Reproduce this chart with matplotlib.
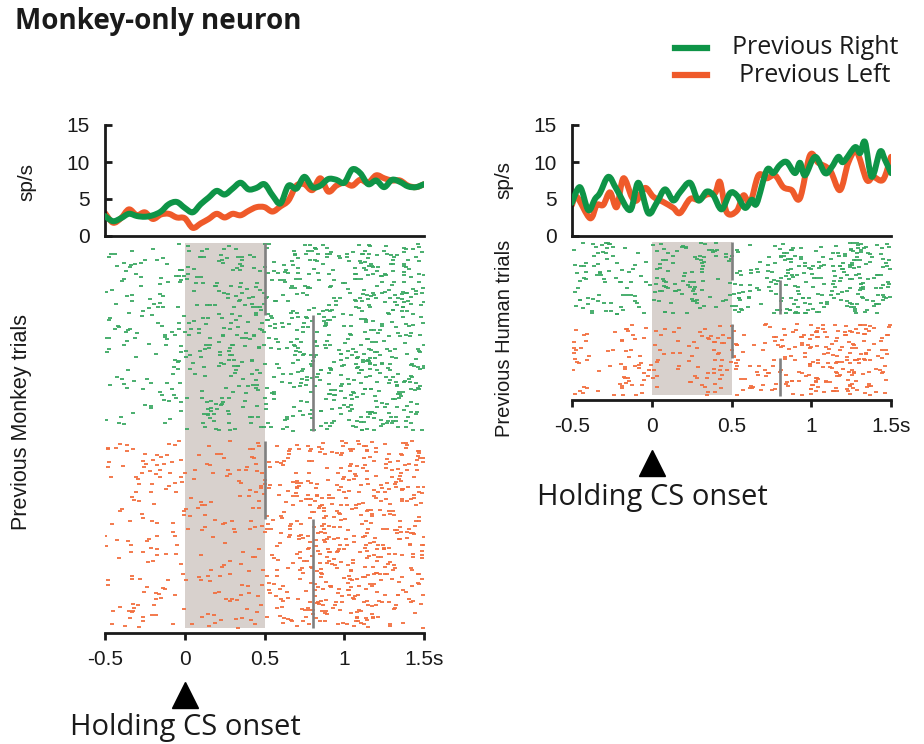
import numpy as np
import matplotlib
matplotlib.use("Agg")
import matplotlib.pyplot as plt
from matplotlib.lines import Line2D
from matplotlib.path import Path
from matplotlib.patches import PathPatch

# ---------------- data ----------------
time_grid = [-0.5, -0.45, -0.4, -0.35, -0.3, -0.25, -0.2, -0.15, -0.1, -0.05,
             0.0, 0.05, 0.1, 0.15, 0.2, 0.25, 0.3, 0.35, 0.4, 0.45,
             0.5, 0.55, 0.6, 0.65, 0.7, 0.75, 0.8, 0.85, 0.9, 0.95,
             1.0, 1.05, 1.1, 1.15, 1.2, 1.25, 1.3, 1.35, 1.4, 1.45, 1.5]
left_green = [2.7, 2.0, 2.4, 3.0, 2.7, 2.6, 2.8, 3.3, 4.3, 4.6,
              3.8, 3.2, 4.3, 5.2, 6.1, 5.6, 6.4, 7.2, 6.3, 6.5,
              7.0, 5.5, 4.4, 6.8, 6.4, 8.0, 6.6, 6.8, 7.7, 7.6,
              7.2, 9.0, 8.5, 7.0, 7.5, 6.6, 7.6, 7.3, 6.7, 6.6, 7.0]
left_orange = [3.1, 1.8, 2.4, 3.6, 2.8, 3.2, 2.3, 2.9, 3.0, 2.5,
               2.4, 1.1, 1.7, 2.3, 3.0, 2.5, 3.0, 2.8, 3.4, 3.9,
               3.9, 3.3, 4.0, 4.8, 6.8, 7.0, 6.2, 7.8, 6.0, 6.8,
               7.2, 6.8, 7.6, 7.2, 8.2, 7.8, 7.5, 7.5, 6.8, 6.6, 7.0]

right_green_t = [-0.5, -0.45, -0.398, -0.356, -0.325, -0.272, -0.22, -0.136, -0.084,
                 -0.022, 0.031, 0.083, 0.135, 0.177, 0.24, 0.292, 0.344, 0.386,
                 0.438, 0.491, 0.533, 0.585, 0.627, 0.658, 0.721, 0.762, 0.804,
                 0.846, 0.898, 0.929, 0.961, 1.024, 1.086, 1.128, 1.17, 1.201,
                 1.274, 1.306, 1.337, 1.379, 1.431, 1.462, 1.5]
right_green = [4.5, 6.6, 3.5, 5.0, 5.8, 8.0, 6.3, 3.5, 7.2,
               3.1, 4.5, 6.3, 4.8, 5.9, 7.2, 4.8, 6.0, 5.5,
               3.6, 5.8, 5.5, 3.8, 4.9, 4.4, 8.9, 8.5, 9.6,
               10.0, 8.5, 9.9, 8.2, 10.7, 8.5, 9.3, 10.7, 10.0,
               12.0, 11.2, 12.7, 8.0, 11.4, 10.3, 8.5]
right_orange_t = [-0.5, -0.47, -0.387, -0.345, -0.304, -0.262, -0.22, -0.178, -0.126,
                  -0.094, -0.042, 0.01, 0.072, 0.135, 0.177, 0.24, 0.292, 0.344,
                  0.397, 0.428, 0.47, 0.533, 0.575, 0.617, 0.669, 0.721, 0.773,
                  0.825, 0.877, 0.929, 0.992, 1.044, 1.117, 1.18, 1.232, 1.284,
                  1.347, 1.389, 1.45, 1.5]
right_orange = [4.2, 5.3, 2.4, 4.2, 4.2, 5.9, 3.9, 7.8, 5.3,
                4.8, 6.5, 5.3, 4.6, 3.8, 3.1, 5.0, 4.9, 5.6,
                5.8, 7.3, 3.2, 3.4, 5.5, 4.5, 8.2, 7.8, 8.2,
                6.6, 6.2, 5.1, 10.9, 9.9, 8.9, 6.2, 9.9, 11.4,
                7.6, 8.0, 7.6, 10.7]

xticks = [-0.5, 0, 0.5, 1, 1.5]
xticklabels = ['-0.5', '0', '0.5', '1', '1.5s']
yticks = [0, 5, 10, 15]
cue_window = [0.0, 0.5]
event_times = [0.5, 0.8]
# trials per event-time subgroup
left_green_trials = [23, 37]
left_orange_trials = [25, 35]
right_green_trials = [12, 11]
right_orange_trials = [11, 12]
series_labels = ['Previous Right', 'Previous Left']

# ---------------- style ----------------
GREEN = '#0e9447'
ORANGE = '#ef5a2a'
GREEN_DOT = '#3aa862'
ORANGE_DOT = '#f26e3e'
SHADE = '#d8d1cd'
EVENT = '#808080'
INK = '#1a1a1a'
TICKFONT = ['Liberation Sans', 'DejaVu Sans']
CAL = ['Open Sans', 'DejaVu Sans']
DENSITY = 1.3

W, H = 924, 744
fig = plt.figure(figsize=(W / 100, H / 100), dpi=100)


def rect(x0, y0, x1, y1):
    return [x0 / W, 1 - y1 / H, (x1 - x0) / W, (y1 - y0) / H]


def fx(x):
    return x / W


def fy(y):
    return 1 - y / H


def hash01(a):
    """Deterministic hash in [0, 1)."""
    return np.modf(np.abs(np.sin(np.asarray(a, float) * 12.9898 + 4.1414) * 43758.5453))[0]


def spikes_from_rate(t, rate, n_trials, seed):
    """Deterministic spike times whose density follows the rate curve."""
    t = np.asarray(t, float)
    r = np.asarray(rate, float)
    fine = np.linspace(-0.5, 1.5, 801)
    rf = np.interp(fine, t, r)
    cdf = np.concatenate([[0], np.cumsum((rf[1:] + rf[:-1]) / 2 * np.diff(fine))])
    total = cdf[-1]
    all_t, all_r = [], []
    for j in range(n_trials):
        base = seed + j * 97.31
        n = int(round(total * DENSITY + (hash01(base) - 0.5) * 6))
        u = hash01(base + 0.713 + np.arange(n) * 1.6180339)
        jit = (hash01(base + 0.377 + np.arange(n) * 2.2360679) - 0.5) * 0.7
        all_t.append(np.interp(u * total, cdf, fine))
        all_r.append(j + jit)
    return np.concatenate(all_t), np.concatenate(all_r)


def smooth_line(ax, x, y, color, lw, z):
    p = np.column_stack([x, y]).astype(float)
    ext = np.vstack([p[0], p, p[-1]])
    verts = [tuple(p[0])]
    codes = [Path.MOVETO]
    for i in range(1, len(ext) - 2):
        p0, p1, p2, p3 = ext[i - 1], ext[i], ext[i + 1], ext[i + 2]
        c1 = p1 + (p2 - p0) / 6.0
        c2 = p2 - (p3 - p1) / 6.0
        verts += [tuple(c1), tuple(c2), tuple(p2)]
        codes += [Path.CURVE4] * 3
    patch = PathPatch(Path(verts, codes), facecolor='none', edgecolor=color, lw=lw,
                      capstyle='round', joinstyle='round', zorder=z)
    ax.add_patch(patch)


def psth_axes(r, tg, g, to, o):
    ax = fig.add_axes(r)
    smooth_line(ax, to, o, ORANGE, 4.3, 2)
    smooth_line(ax, tg, g, GREEN, 4.3, 3)
    ax.set_xlim(-0.5, 1.5)
    ax.set_ylim(0, 15)
    for s in ['top', 'right']:
        ax.spines[s].set_visible(False)
    for s in ['left', 'bottom']:
        ax.spines[s].set_linewidth(2.0)
        ax.spines[s].set_color(INK)
    ax.set_xticks([])
    ax.set_yticks(yticks)
    ax.tick_params(axis='y', direction='in', length=5, width=2.0, color=INK, pad=11,
                   labelsize=15, labelcolor=INK)
    for lbl in ax.get_yticklabels():
        lbl.set_fontfamily(TICKFONT)
    ax.patch.set_alpha(0)
    return ax


def raster_axes(r, groups, ylim_bottom, shade_bottom_frac):
    ax = fig.add_axes(r)
    ax.axvspan(cue_window[0], cue_window[1], ymin=shade_bottom_frac, ymax=1,
               color=SHADE, lw=0, zorder=0)
    row0 = 0
    for (t, rate, counts, color, seed) in groups:
        n_tr = sum(counts)
        times, rows = spikes_from_rate(t, rate, n_tr, seed)
        ax.plot(times, row0 + rows, ls='none', marker='_', ms=3.0, mew=1.3,
                color=color, zorder=2)
        start = row0
        for cnt, ev in zip(counts, event_times):
            ax.vlines(ev + 0.006, start - 0.5, start + cnt - 0.5, color=EVENT, lw=1.9, zorder=3)
            start += cnt
        row0 += n_tr + 3
    ax.set_xlim(-0.5, 1.5)
    ax.set_ylim(ylim_bottom, -0.64)
    for s in ['top', 'right', 'left']:
        ax.spines[s].set_visible(False)
    ax.spines['bottom'].set_linewidth(2.0)
    ax.spines['bottom'].set_color(INK)
    ax.set_yticks([])
    ax.set_xticks(xticks)
    ax.set_xticklabels(xticklabels)
    ax.tick_params(axis='x', direction='out', length=5, width=2.0, color=INK, pad=7,
                   labelsize=15, labelcolor=INK)
    for lbl in ax.get_xticklabels():
        lbl.set_fontfamily(TICKFONT)
    ax.patch.set_alpha(0)
    return ax


# ---- left panel ----
psth_axes(rect(105, 125, 424, 236), time_grid, left_green, time_grid, left_orange)
raster_axes(rect(105, 243, 424, 633),
            [(time_grid, left_green, left_green_trials, GREEN_DOT, 11.0),
             (time_grid, left_orange, left_orange_trials, ORANGE_DOT, 5003.0)],
            124.0, 5 / 390)

# ---- right panel ----
psth_axes(rect(572, 125, 891, 236), right_green_t, right_green, right_orange_t, right_orange)
raster_axes(rect(572, 242, 891, 400),
            [(right_green_t, right_green, right_green_trials, GREEN_DOT, 9007.0),
             (right_orange_t, right_orange, right_orange_trials, ORANGE_DOT, 13009.0)],
            49.8, 5 / 158)

# ---- labels ----
fig.text(fx(15), fy(21), 'Monkey-only neuron', fontsize=20, fontweight='bold',
         family=CAL, ha='left', va='center', color=INK)
fig.text(fx(27), fy(182), 'sp/s', rotation=90, fontsize=15, family=TICKFONT,
         ha='center', va='center', color=INK)
fig.text(fx(504), fy(180), 'sp/s', rotation=90, fontsize=15, family=TICKFONT,
         ha='center', va='center', color=INK)
fig.text(fx(22), fy(422), 'Previous Monkey trials', rotation=90, fontsize=15.5,
         family=TICKFONT, ha='center', va='center', color=INK)
fig.text(fx(505), fy(338), 'Previous Human trials', rotation=90, fontsize=14.5,
         family=TICKFONT, ha='center', va='center', color=INK)

# legend
fig.add_artist(Line2D([fx(675), fx(707)], [fy(48), fy(48)], color=GREEN, lw=4.5))
fig.add_artist(Line2D([fx(675), fx(707)], [fy(75), fy(75)], color=ORANGE, lw=4.5))
fig.text(fx(815), fy(48), series_labels[0], fontsize=18, family=CAL,
         ha='center', va='center', color=INK)
fig.text(fx(815), fy(75), series_labels[1], fontsize=18, family=CAL,
         ha='center', va='center', color=INK)

# onset markers
for (xc, ytri, ytxt) in [(185, 695, 728), (652, 463, 497)]:
    fig.add_artist(Line2D([fx(xc)], [fy(ytri)], marker='^', ms=19, color='black', ls='none'))
    fig.text(fx(xc), fy(ytxt), 'Holding CS onset', fontsize=21, family=CAL,
             ha='center', va='center', color=INK)

fig.savefig('out.png', dpi=100)
